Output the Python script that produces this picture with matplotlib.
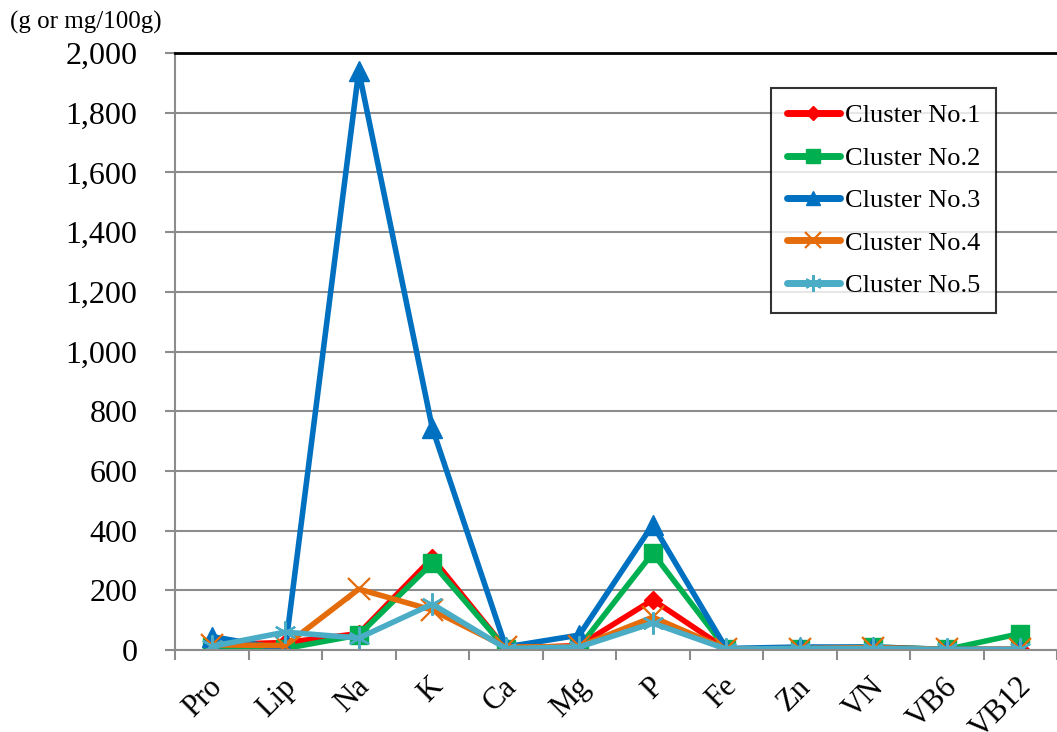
import matplotlib
matplotlib.use("Agg")
import matplotlib.pyplot as plt
from matplotlib.ticker import FuncFormatter, MultipleLocator
from matplotlib.transforms import ScaledTranslation

plt.rcParams['font.family'] = ['Liberation Serif', 'DejaVu Serif']

categories = ["Pro", "Lip", "Na", "K", "Ca", "Mg", "P", "Fe", "Zn", "VN", "VB6", "VB12"]

cluster1 = [18, 25, 55, 308, 5, 15, 168, 3, 5, 5, 2, 2]
cluster2 = [10, 5, 50, 291, 5, 10, 325, 3, 5, 10, 2, 55]
cluster3 = [45, 2, 1940, 744, 10, 50, 420, 5, 10, 10, 2, 2]
cluster4 = [17, 15, 204, 134, 10, 12, 110, 3, 5, 8, 2, 2]
cluster5 = [12, 60, 40, 154, 5, 10, 90, 3, 5, 5, 2, 2]

series = [
    ("Cluster No.1", cluster1, "#FF0000", "D", 9, 1.0),
    ("Cluster No.2", cluster2, "#00B050", "s", 13, 1.0),
    ("Cluster No.3", cluster3, "#0070C0", "^", 14, 1.0),
    ("Cluster No.4", cluster4, "#E46C0A", "x", 16, 1.6),
    ("Cluster No.5", cluster5, "#4BACC6", (6, 2, 0), 16, 1.6),
]

fig = plt.figure(figsize=(10.57, 7.32), dpi=100)
ax = fig.add_axes([175 / 1057, 82 / 732, 882 / 1057, 597 / 732])

x = list(range(len(categories)))
for name, vals, color, marker, ms, mew in series:
    ax.plot(x, vals, color=color, linewidth=4, marker=marker, markersize=ms,
            markerfacecolor=color, markeredgecolor=color, markeredgewidth=mew,
            label=name, solid_capstyle="round", solid_joinstyle="round")

ax.set_xlim(-0.5, len(categories) - 0.5)
ax.set_ylim(0, 2000)
ax.yaxis.set_major_locator(MultipleLocator(200))
ax.yaxis.set_major_formatter(FuncFormatter(lambda v, p: f"{int(v):,}"))
ax.grid(axis="y", color="#8c8c8c", linewidth=1.5)
ax.set_axisbelow(True)

ax.set_xticks([i - 0.5 for i in range(len(categories) + 1)])
ax.set_xticklabels([])
ax.set_xticks(x, minor=True)
ax.set_xticklabels(categories, minor=True, rotation=45, ha="right",
                   rotation_mode="anchor", fontsize=22)
ax.tick_params(axis="x", which="major", direction="out", length=7,
               width=1.5, color="#8c8c8c")
ax.tick_params(axis="x", which="minor", length=0, pad=16)
ax.tick_params(axis="y", direction="out", length=7, width=1.5,
               color="#8c8c8c", labelsize=23, pad=20)
for lbl in ax.get_xticklabels(minor=True):
    lbl.set_transform(lbl.get_transform() + ScaledTranslation(-4 / 100, 0, fig.dpi_scale_trans))

ax.spines["left"].set_color("#8c8c8c")
ax.spines["left"].set_linewidth(1.5)
ax.spines["bottom"].set_color("#8c8c8c")
ax.spines["bottom"].set_linewidth(1.5)
ax.spines["top"].set_color("black")
ax.spines["top"].set_linewidth(2)
ax.spines["right"].set_visible(False)

leg = ax.legend(loc="upper left", bbox_to_anchor=(771 / 1057, 1 - 88 / 732),
                bbox_transform=fig.transFigure, fontsize=19,
                frameon=True, fancybox=False, edgecolor="black",
                handlelength=2.0, handletextpad=0.2, labelspacing=0.72,
                borderpad=0.6, borderaxespad=0, markerscale=0.75)
leg.get_frame().set_linewidth(1.5)
for line in leg.get_lines():
    line.set_linewidth(5)

fig.text(10 / 1057, 1 - 22 / 732, "(g or mg/100g)", fontsize=18,
         va="center", ha="left")

fig.savefig("out.png", dpi=100)
